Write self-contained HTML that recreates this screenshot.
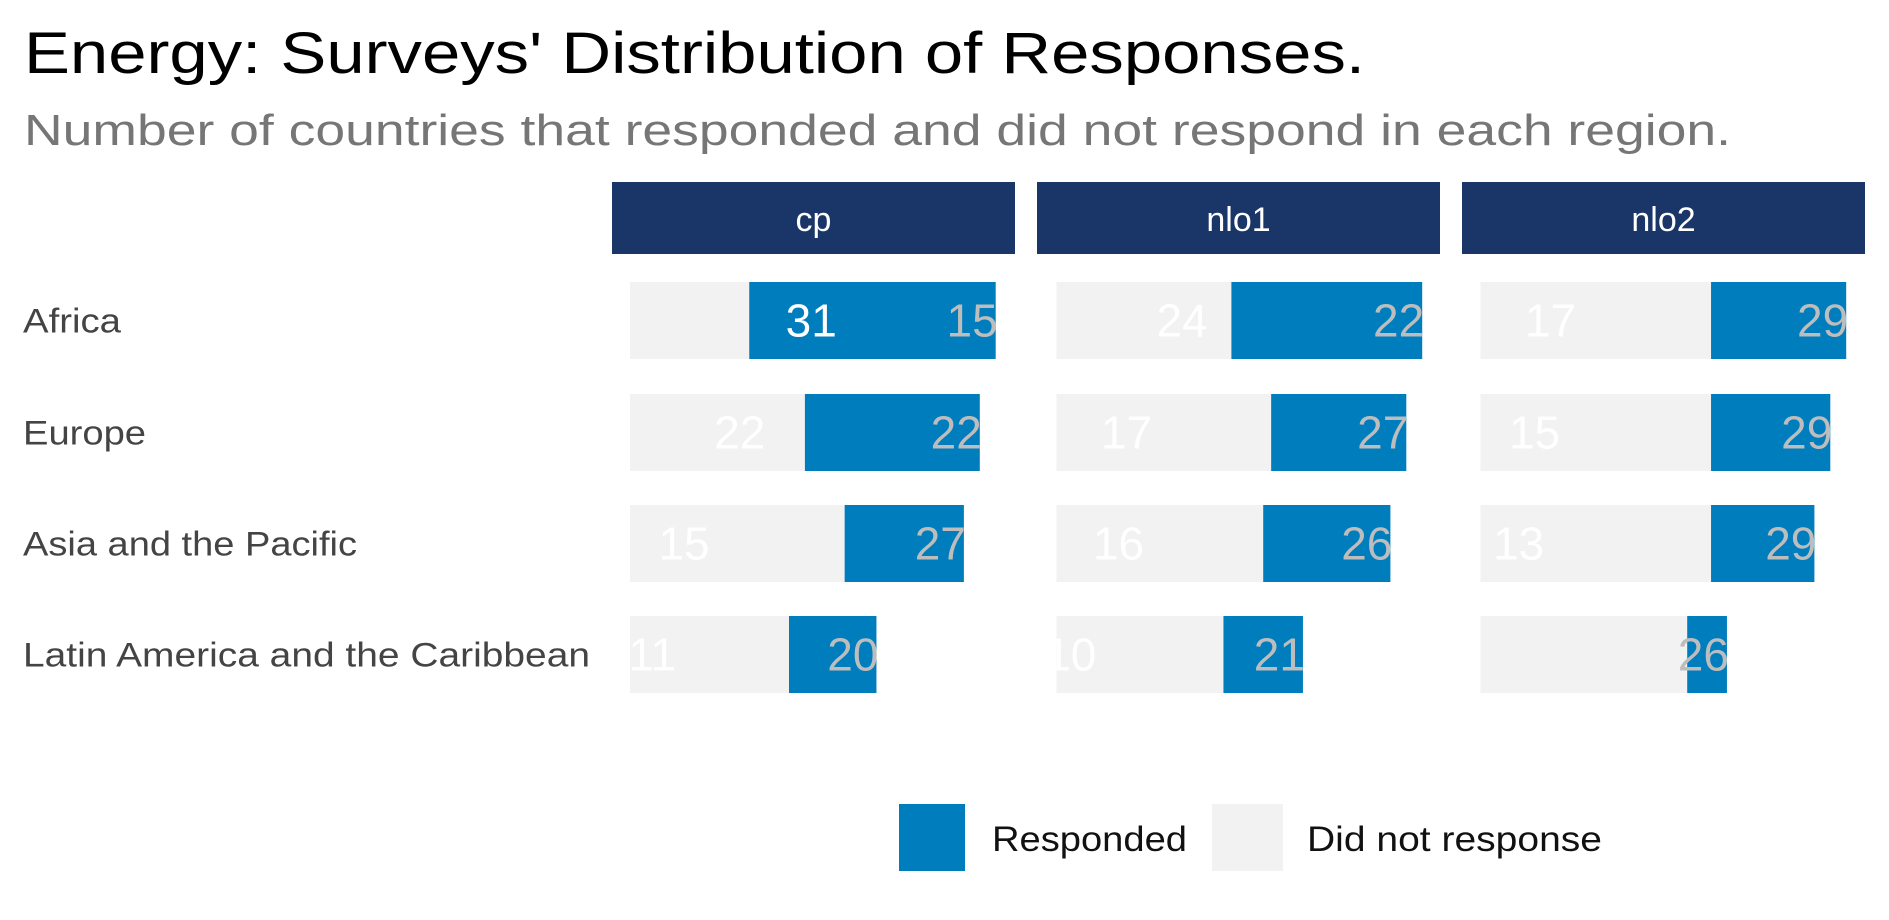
<!DOCTYPE html>
<html><head><meta charset="utf-8"><style>
html,body{margin:0;padding:0;background:#fff;}
svg{display:block;font-family:"Liberation Sans",sans-serif;}
</style></head><body>
<svg id="chart" width="1889" height="920" viewBox="0 0 1889 920" xmlns="http://www.w3.org/2000/svg">
<text x="24" y="73" font-size="58" fill="#000" textLength="1341" lengthAdjust="spacingAndGlyphs">Energy: Surveys' Distribution of Responses.</text>
<text x="24" y="145" font-size="44" fill="#767676" textLength="1707" lengthAdjust="spacingAndGlyphs">Number of countries that responded and did not respond in each region.</text>
<g id="panels"></g>
<g>
<rect x="899" y="804" width="66" height="67" fill="#007dbc"/>
<text x="992" y="851" font-size="35" fill="#111" textLength="195" lengthAdjust="spacingAndGlyphs">Responded</text>
<rect x="1212" y="804" width="71" height="67" fill="#f2f2f2"/>
<text x="1307" y="851" font-size="35" fill="#111" textLength="295" lengthAdjust="spacingAndGlyphs">Did not response</text>
</g>
</svg>
<script>
const panels = ["cp","nlo1","nlo2"];
const regions = ["Africa","Europe","Asia and the Pacific","Latin America and the Caribbean"];
const notResponded = {cp:[15,22,27,20], nlo1:[22,27,26,21], nlo2:[29,29,29,26]};
const responded = {cp:[31,22,15,11], nlo1:[24,17,16,10], nlo2:[17,15,13,5]};

const NS="http://www.w3.org/2000/svg";
const g=document.getElementById('panels');
const panelX0=[630,1056.5,1480.5];
const stripX=[612,1037,1462], stripW=403;
const unit=7.95;
const rowTop=[282,394,505,616], barH=77;
const labelW=[98,123,334,567];
function xs(p,v){return panelX0[p]+v*unit;}
function el(tag,attrs,parent){const e=document.createElementNS(NS,tag);for(const k in attrs)e.setAttribute(k,attrs[k]);parent.appendChild(e);return e;}
regions.forEach((r,i)=>{
  const t=el('text',{x:23,y:rowTop[i]+barH/2+12,'font-size':34,fill:'#444',textLength:labelW[i],lengthAdjust:'spacingAndGlyphs'},g);
  
  
  t.textContent=r;
});
panels.forEach((p,pi)=>{
  const s=el('rect',{x:stripX[pi],y:182,width:stripW,height:72,fill:'#1a3668'},g);
  
  
  const st=el('text',{x:stripX[pi]+stripW/2,y:231,'font-size':34,fill:'#fff','text-anchor':'middle'},g);
  
  
  st.textContent=p;
  const clip=el('clipPath',{id:'clip'+pi},g);
  el('rect',{x:panelX0[pi],y:260,width:420,height:460},clip);
  const pg=el('g',{'clip-path':'url(#clip'+pi+')'},g);
  regions.forEach((r,i)=>{
    const nr=notResponded[p][i], rs=responded[p][i], tot=nr+rs;
    const a=el('rect',{x:xs(pi,0),y:rowTop[i],width:xs(pi,nr)-xs(pi,0),height:barH,fill:'#f2f2f2'},pg);
    
    
    const b=el('rect',{x:xs(pi,nr),y:rowTop[i],width:xs(pi,tot)-xs(pi,nr),height:barH,fill:'#007dbc'},pg);
    
    
    const cy=rowTop[i]+barH/2+16;
    const l1=el('text',{x:xs(pi,rs-8.2),y:cy,'font-size':46,fill:'#fff','text-anchor':'middle'},pg);
    
    
    l1.textContent=rs;
    const l2=el('text',{x:xs(pi,tot)+2,y:cy,'font-size':46,fill:'#bdbdbd','text-anchor':'end'},pg);
    
    
    l2.textContent=nr;
  });
});
</script>
</body></html>
